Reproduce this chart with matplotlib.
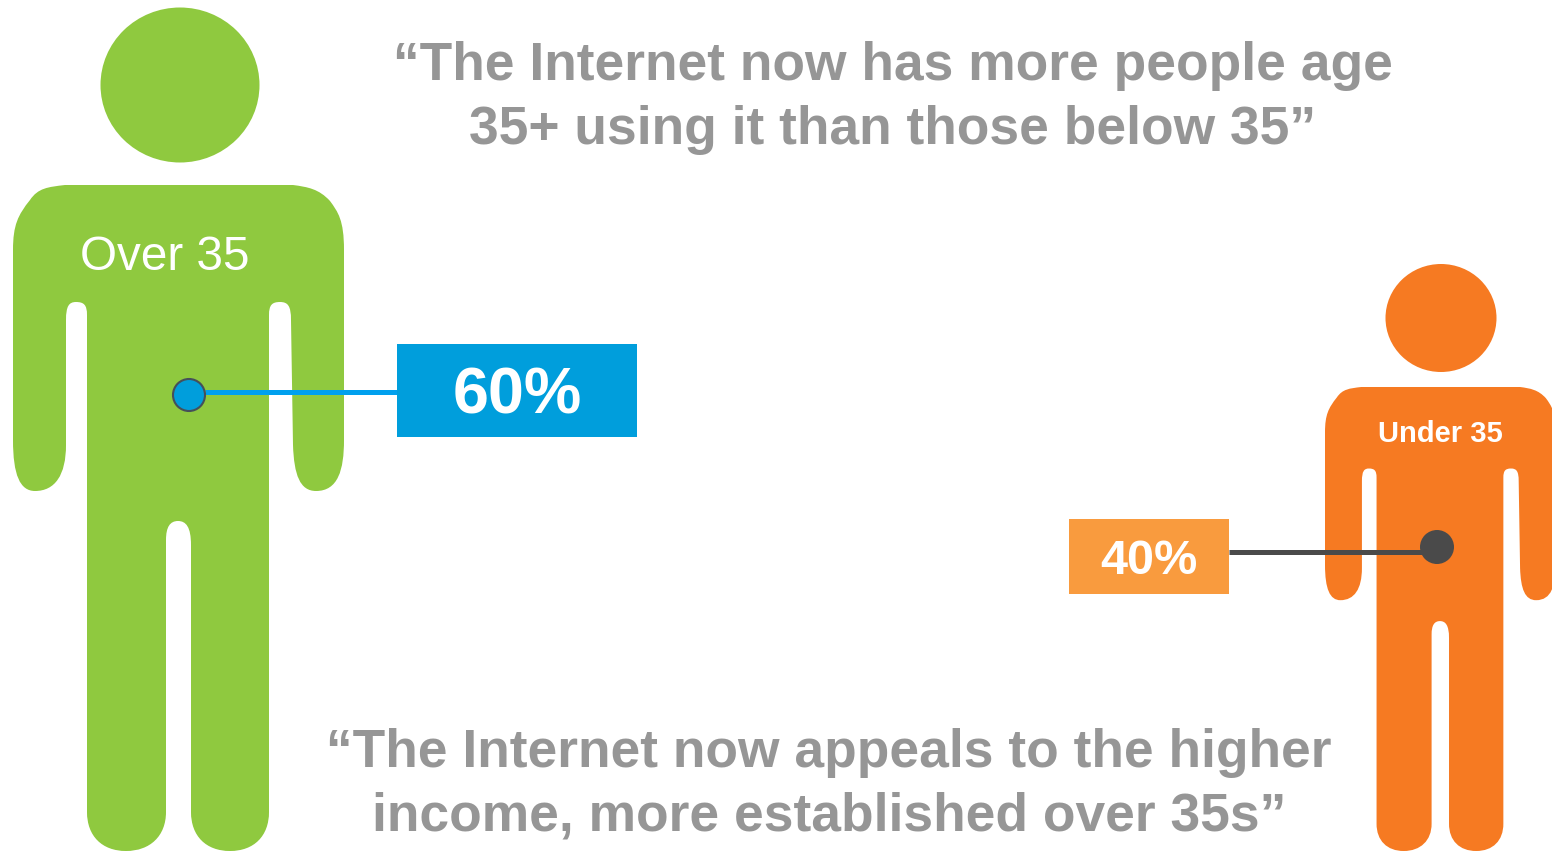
import matplotlib
matplotlib.use('Agg')
import matplotlib.pyplot as plt
from matplotlib.path import Path
from matplotlib.patches import PathPatch, Ellipse, Rectangle, Circle
from matplotlib.transforms import Affine2D

groups = ['Over 35', 'Under 35']
shares = [60, 40]
quotes = [
    '\u201cThe Internet now has more people age\n35+ using it than those below 35\u201d',
    '\u201cThe Internet now appeals to the higher\nincome, more established over 35s\u201d',
]

GREEN = '#8FC93F'
ORANGE = '#F67A22'
GREY = '#969696'

# body silhouette, drawn at the size of the larger figure
body_segments = [
    ('L', (293, 185)),
    ('C', (308, 187), (319, 189), (330, 201)),
    ('C', (338, 212), (344, 220), (344, 250)),
    ('L', (344, 440)),
    ('C', (344, 470), (338, 491), (316, 491)),
    ('C', (300, 491), (294, 475), (293, 445)),
    ('L', (291, 320)),
    ('C', (291, 306), (288, 302), (280, 302)),
    ('C', (272, 302), (269, 305), (269, 315)),
    ('L', (269, 812)),
    ('C', (269, 836), (254, 851), (230, 851)),
    ('C', (206, 851), (191, 836), (191, 812)),
    ('L', (191, 545)),
    ('C', (191, 527), (186, 521), (178, 521)),
    ('C', (170, 521), (166, 527), (166, 540)),
    ('L', (166, 812)),
    ('C', (166, 836), (150, 851), (126, 851)),
    ('C', (102, 851), (87, 836), (87, 812)),
    ('L', (87, 315)),
    ('C', (87, 305), (84, 302), (76, 302)),
    ('C', (69, 302), (66, 306), (66, 320)),
    ('L', (66, 445)),
    ('C', (66, 475), (55, 491), (35, 491)),
    ('C', (20, 491), (13, 475), (13, 440)),
    ('L', (13, 250)),
    ('C', (13, 225), (18, 215), (30, 200)),
    ('C', (38, 188), (48, 187), (65, 185)),
]


def body_path():
    verts = [(65, 185)]
    codes = [Path.MOVETO]
    for seg in body_segments:
        if seg[0] == 'L':
            verts.append(seg[1])
            codes.append(Path.LINETO)
        else:
            verts.extend(seg[1:])
            codes.extend([Path.CURVE4] * 3)
    verts.append((65, 185))
    codes.append(Path.CLOSEPOLY)
    return Path(verts, codes)


fig = plt.figure(figsize=(15.52, 8.51), dpi=100)
ax = fig.add_axes([0, 0, 1, 1])
ax.set_xlim(0, 1552)
ax.set_ylim(851, 0)
ax.axis('off')

# large figure
ax.add_patch(Ellipse((180, 85), 159, 155, color=GREEN, lw=0))
ax.add_patch(PathPatch(body_path(), facecolor=GREEN, lw=0))

# small figure, same silhouette scaled down (its right arm runs off the edge)
scale = 464 / 666
small = Affine2D().translate(-13, -185).scale(scale).translate(1325, 387)
ax.add_patch(Ellipse((1441, 318), 111, 108, color=ORANGE, lw=0))
ax.add_patch(PathPatch(body_path().transformed(small), facecolor=ORANGE, lw=0))

plt.rcParams['font.family'] = ['Liberation Sans', 'DejaVu Sans']

ax.text(165, 258, groups[0], color='white', fontsize=34.3, ha='center', va='center')
ax.text(1440, 434, groups[1], color='white', fontsize=21, fontweight='bold', ha='center', va='center')

# 60% callout
ax.plot([205, 397], [392, 392], color='#00A0EE', lw=3.6, solid_capstyle='butt', zorder=3)
ax.add_patch(Circle((189, 395), 16, facecolor='#009EDC', edgecolor='#45505A', lw=1.5, zorder=4))
ax.add_patch(Rectangle((397, 344), 240, 93, facecolor='#009EDC', lw=0, zorder=4))
ax.text(517, 397, f'{shares[0]}%', color='white', fontsize=46.5, fontweight='bold',
        ha='center', va='center', zorder=5)

# 40% callout
ax.plot([1229, 1430], [552, 552], color='#4A4A4A', lw=3.6, solid_capstyle='butt', zorder=3)
ax.add_patch(Circle((1437, 547), 17, facecolor='#4A4A4A', lw=0, zorder=4))
ax.add_patch(Rectangle((1069, 519), 160, 75, facecolor='#F99B3E', lw=0, zorder=4))
ax.text(1149, 561, f'{shares[1]}%', color='white', fontsize=35, fontweight='bold',
        ha='center', va='center', zorder=5)

ax.text(893, 98, quotes[0], color=GREY, fontsize=38.4, fontweight='bold',
        ha='center', va='center', linespacing=1.35)
ax.text(829, 785, quotes[1], color=GREY, fontsize=38.4, fontweight='bold',
        ha='center', va='center', linespacing=1.35)

fig.savefig('out.png', dpi=100)
